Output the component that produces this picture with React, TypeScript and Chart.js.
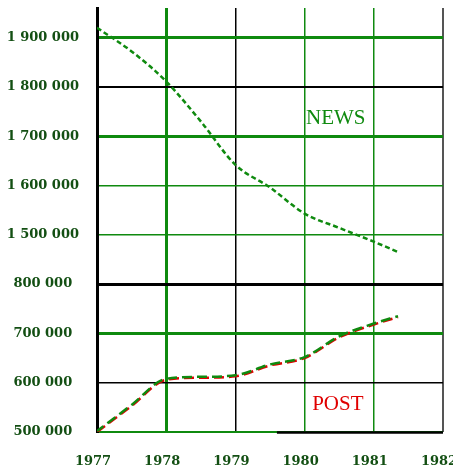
import React, { useEffect, useRef } from "react";
import { Chart, registerables } from "chart.js";

Chart.register(...registerables);

// Data
const newsYears = [1977, 1977.5, 1978, 1978.5, 1979, 1979.5, 1980, 1980.5, 1981, 1981.35];
const newsValues = [1920000, 1872000, 1811000, 1730000, 1642000, 1596000, 1543000, 1514000, 1486000, 1465000];
const postYears = [1977, 1977.5, 1978, 1978.5, 1979, 1979.5, 1980, 1980.5, 1981, 1981.35];
const postValues = [500000, 553000, 606000, 610000, 613000, 635000, 650000, 692000, 718000, 733000];
const xTickYears = [1977, 1978, 1979, 1980, 1981, 1982];
// Broken axis: lower segment 500 000–800 000, upper segment 1 500 000–1 900 000
const yTickValues = [500000, 600000, 700000, 800000, 1500000, 1600000, 1700000, 1800000, 1900000];
const yTickLabels = ["500 000", "600 000", "700 000", "800 000", "1 500 000", "1 600 000", "1 700 000", "1 800 000", "1 900 000"];

const GREEN = "#0f8a0f";
const RED = "#e00000";
const TEXT = "#134f13";

// map a real value onto the broken axis position
function toAxis(v: number): number {
  if (v >= 1400000) return 4 + (v - 1500000) / 100000;
  return (v - 500000) / 100000;
}

const yGridColors = [GREEN, "#000", GREEN, "#000", GREEN, GREEN, GREEN, "#000", GREEN];
const yGridWidths = [2, 1.5, 3, 3, 1.5, 1.5, 3, 2, 3];
const xGridColors = ["#000", GREEN, "#000", GREEN, GREEN, "#555"];
const xGridWidths = [3, 3, 1.5, 1.5, 1.5, 2];

const seriesLabels = [
  { text: "NEWS", x: 1980.45, v: 1735000, color: GREEN },
  { text: "POST", x: 1980.48, v: 555000, color: RED },
];

export default function App() {
  const ref = useRef<HTMLCanvasElement | null>(null);
  useEffect(() => {
    if (!ref.current) return;
    const labelPlugin = {
      id: "seriesLabels",
      afterDatasetsDraw(chart: any) {
        const { ctx, scales } = chart;
        const xs = scales.x;
        // bottom black segment of the axis frame
        ctx.save();
        ctx.strokeStyle = "#000";
        ctx.lineWidth = 2.5;
        ctx.beginPath();
        ctx.moveTo(xs.getPixelForValue(1979.6), chart.chartArea.bottom + 0.5);
        ctx.lineTo(xs.getPixelForValue(1982), chart.chartArea.bottom + 0.5);
        ctx.stroke();
        ctx.restore();
      },
      afterDraw(chart: any) {
        const { ctx, scales } = chart;
        ctx.save();
        ctx.font = "21px 'Liberation Serif'";
        ctx.textAlign = "center";
        ctx.textBaseline = "middle";
        for (const l of seriesLabels) {
          ctx.fillStyle = l.color;
          ctx.fillText(l.text, scales.x.getPixelForValue(l.x), scales.y.getPixelForValue(toAxis(l.v)));
        }
        ctx.restore();
      },
    };
    const chart = new Chart(ref.current, {
      type: "line",
      data: {
        datasets: [
          {
            label: "NEWS",
            data: newsYears.map((x, i) => ({ x, y: toAxis(newsValues[i]) })),
            borderColor: GREEN,
            borderWidth: 2.5,
            borderDash: [5, 3],
            pointRadius: 0,
            cubicInterpolationMode: "monotone",
          },
          {
            label: "POST shadow",
            data: postYears.map((x, i) => ({ x, y: toAxis(postValues[i]) + 0.02 })),
            borderColor: GREEN,
            borderWidth: 2.5,
            borderDash: [10, 5],
            borderDashOffset: 2,
            pointRadius: 0,
            cubicInterpolationMode: "monotone",
          },
          {
            label: "POST",
            data: postYears.map((x, i) => ({ x, y: toAxis(postValues[i]) })),
            borderColor: RED,
            borderWidth: 2.5,
            borderDash: [10, 5],
            pointRadius: 0,
            cubicInterpolationMode: "monotone",
          },
        ],
      },
      options: {
        responsive: false,
        animation: false,
        layout: { padding: { top: 8, right: 10, left: 0, bottom: 0 } },
        plugins: { legend: { display: false }, tooltip: { enabled: false } },
        scales: {
          x: {
            type: "linear",
            min: 1977,
            max: 1982,
            afterBuildTicks: (s: any) => {
              s.ticks = xTickYears.map((v) => ({ value: v }));
            },
            afterFit: (s: any) => {
              s.height = 38;
              s.paddingLeft = 0;
              s.paddingRight = 0;
            },
            ticks: {
              callback: (v: any) => String(v),
              font: { family: "'DejaVu Serif'", size: 13, weight: "bold" },
              color: TEXT,
              padding: 22,
              labelOffset: -4,
              maxRotation: 0,
              autoSkip: false,
            },
            grid: {
              drawTicks: false,
              color: (c: any) => xGridColors[c.index] ?? GREEN,
              lineWidth: (c: any) => xGridWidths[c.index] ?? 1,
            },
            border: { display: false },
          },
          y: {
            type: "linear",
            min: 0,
            max: 8.6,
            afterBuildTicks: (s: any) => {
              s.ticks = yTickValues.map((v) => ({ value: toAxis(v) }));
            },
            afterFit: (s: any) => {
              s.width = 97;
              s.paddingTop = 0;
              s.paddingBottom = 0;
            },
            ticks: {
              callback: (_v: any, i: number) => yTickLabels[i],
              font: { family: "'DejaVu Serif'", size: 13, weight: "bold" },
              color: TEXT,
              padding: 18,
              crossAlign: "center",
              autoSkip: false,
            },
            grid: {
              drawTicks: false,
              color: (c: any) => yGridColors[c.index] ?? GREEN,
              lineWidth: (c: any) => yGridWidths[c.index] ?? 1,
            },
            border: { display: true, color: "#000", width: 3 },
          },
        },
      },
      plugins: [labelPlugin],
    } as any);
    return () => chart.destroy();
  }, []);
  return (
    <canvas
      ref={ref}
      width={453}
      height={470}
      style={{ position: "absolute", left: 0, top: 0, width: 453, height: 470 }}
    />
  );
}
